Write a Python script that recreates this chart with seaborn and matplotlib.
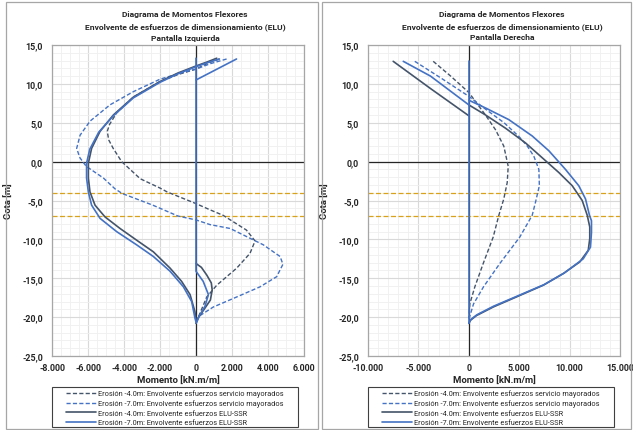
import numpy as np
import pandas as pd
import matplotlib
matplotlib.use("Agg")
import matplotlib.pyplot as plt
import seaborn as sns
from matplotlib.ticker import FuncFormatter, MultipleLocator
from matplotlib.lines import Line2D
from matplotlib.patches import Rectangle

nan = np.nan

series_names = [
    "Erosión -4.0m: Envolvente esfuerzos servicio mayorados",
    "Erosión -7.0m: Envolvente esfuerzos servicio mayorados",
    "Erosión -4.0m: Envolvente esfuerzos ELU-SSR",
    "Erosión -7.0m: Envolvente esfuerzos ELU-SSR",
]

# ---- Pantalla Izquierda (momento kN.m/m, cota m) ----
izq_serv4_x = [1300, 700, 0, -1000, -2000, -3480, -4400, -4800, -4930, -4850, -4600, -4130,
               -3100, -2000, -1600, 0, 780, 1500, 2800, 3280, 3000, 2260, 1150, 600, 130, 0]
izq_serv4_y = [13.2, 12.7, 11.9, 11.2, 10.3, 8.3, 6.3, 4.8, 3.9, 2.8, 1.7, 0.0,
               -2.2, -3.4, -3.9, -5.4, -6.2, -6.9, -8.8, -10.2, -11.8, -13.7, -15.9, -17.4, -20.0, -20.4]

izq_serv7_x = [1700, 800, 0, -1000, -2000, -3480, -4780, -5890, -6440, -6630, -6450, -6100,
               -5150, -4500, -4100, -2400, -1000, 0, 780, 1900, 3740, 4670, 4830, 4480,
               3560, 2070, 960, 220, 0]
izq_serv7_y = [13.2, 12.6, 11.9, 11.3, 10.6, 9.0, 7.3, 5.2, 3.4, 1.7, 0.5, -0.6,
               -2.1, -3.5, -4.1, -5.6, -7.0, -7.5, -8.1, -8.6, -10.7, -12.2, -13.2, -14.8,
               -16.1, -17.6, -18.7, -19.8, -20.4]

izq_elu4_x = [1150, 600, 0, -1000, -2000, -3480, -4590, -5330, -5800, -5980, -5980, -5890,
              -5610, -5060, -4220, -3300, -2370, -1440, -800, -330, -60, 0, nan,
              0, 300, 600, 850, 900, 800, 450, 150, 0]
izq_elu4_y = [13.3, 12.8, 12.3, 11.4, 10.3, 8.3, 6.0, 3.9, 1.7, -0.2, -2.1, -3.9,
              -5.6, -7.1, -8.6, -10.1, -11.6, -13.7, -15.4, -17.1, -19.3, -20.4, nan,
              -13.1, -13.6, -14.6, -15.6, -16.5, -17.8, -19.0, -20.0, -20.8]

izq_elu7_x = [2250, 0, nan,
              0, 0, 400, 690, 500, 220, 0, nan,
              1300, 600, 0, -1000, -2000, -3480, -4590, -5400, -5900, -6080, -6080, -5980,
              -5800, -5330, -4410, -3300, -2370, -1440, -700, -240, -60, 0]
izq_elu7_y = [13.2, 10.5, nan,
              13.3, -14.1, -15.4, -17.1, -18.6, -19.7, -20.8, nan,
              13.2, 12.7, 12.2, 11.3, 10.2, 8.2, 5.9, 3.8, 1.6, -0.2, -2.1, -3.9,
              -5.6, -7.3, -9.0, -10.7, -12.2, -14.1, -16.1, -18.0, -20.1, -20.6]

# ---- Pantalla Derecha ----
der_serv4_x = [-3530, -1800, 0, 1650, 2650, 3470, 3910, 3810, 3470, 2980, 2420, 1430, 600, 100, 0]
der_serv4_y = [12.9, 11.0, 8.9, 6.0, 4.1, 2.0, -0.6, -2.7, -4.8, -6.9, -9.7, -13.1, -16.1, -18.3, -20.1]

der_serv7_x = [-5360, -2700, 0, 1500, 3500, 5000, 5800, 6450, 6950, 7000, 6620, 6290,
               5060, 3080, 1460, 470, 0]
der_serv7_y = [12.9, 10.7, 8.4, 6.9, 5.0, 3.2, 2.0, 0.7, -1.0, -3.1, -5.2, -6.9,
               -9.7, -13.1, -16.1, -18.3, -20.3]

der_elu4_x = [-7500, -3800, 0, nan,
              0, 1660, 3640, 5630, 7280, 8930, 10260, 11250, 11750, 12000, 12000, 11850,
              11010, 9370, 7380, 4730, 2420, 760, 170, 0]
der_elu4_y = [12.9, 9.4, 5.9, nan,
              7.3, 6.0, 4.3, 2.4, 0.5, -1.4, -3.1, -5.0, -6.9, -8.4, -9.9, -11.4,
              -12.9, -14.4, -15.9, -17.4, -18.7, -19.8, -20.4, -20.8]

der_elu7_x = [-6500, -3800, 0, nan,
              0, 0, nan,
              0, 1660, 3970, 6290, 7940, 9590, 10910, 11580, 11970, 12170, 12170, 12070,
              11350, 9500, 7500, 4800, 2450, 800, 200, 0]
der_elu7_y = [12.9, 11.0, 7.3, nan,
              12.9, -20.8, nan,
              7.9, 6.9, 5.4, 3.3, 1.4, -1.0, -3.1, -4.8, -6.9, -7.6, -9.1, -11.0,
              -12.5, -14.3, -15.8, -17.3, -18.6, -19.7, -20.3, -20.8]

izq_series = [(izq_serv4_x, izq_serv4_y), (izq_serv7_x, izq_serv7_y),
              (izq_elu4_x, izq_elu4_y), (izq_elu7_x, izq_elu7_y)]
der_series = [(der_serv4_x, der_serv4_y), (der_serv7_x, der_serv7_y),
              (der_elu4_x, der_elu4_y), (der_elu7_x, der_elu7_y)]

erosion_levels = [-4.0, -7.0]

colors = ["#44546A", "#4472C4", "#44546A", "#4472C4"]
styles = [(0, (3, 1.6)), (0, (3, 1.6)), "-", "-"]
widths = [1.0, 1.0, 1.2, 1.2]


def build_frame(series):
    rows = []
    for name, (xs, ys) in zip(series_names, series):
        tramo = 0
        for x, y in zip(xs, ys):
            if np.isnan(x):
                tramo += 1
                continue
            rows.append({"serie": name, "tramo": tramo, "momento": x, "cota": y})
    return pd.DataFrame(rows)


sns.set_style("white")
plt.rcParams["font.family"] = ["Roboto", "DejaVu Sans"]

fig = plt.figure(figsize=(6.33, 4.31), dpi=100)
W, H = 633, 431


def fx(px):
    return px / W


def fy(py):
    return 1 - py / H


thousands = FuncFormatter(lambda v, p: f"{v:,.0f}".replace(",", "."))
decimal = FuncFormatter(lambda v, p: f"{v:.1f}".replace(".", ","))

panels = [
    dict(series=izq_series, left=52, title="Pantalla Izquierda", xlim=(-8000, 6000),
         major=2000, minor=500, border=(6, 318), title_x=185),
    dict(series=der_series, left=368, title="Pantalla Derecha", xlim=(-10000, 15000),
         major=5000, minor=1000, border=(322, 631), title_x=502),
]

title_lines = ["Diagrama de Momentos Flexores",
               "Envolvente de esfuerzos de dimensionamiento (ELU)"]

for pan in panels:
    # marco del panel
    b0, b1 = pan["border"]
    fig.patches.append(Rectangle((fx(b0), fy(430)), fx(b1 - b0), 427 / H, transform=fig.transFigure,
                                 fill=False, edgecolor="#a6a6a6", lw=0.9))

    ax = fig.add_axes([fx(pan["left"]), fy(357), fx(252), 311 / H])
    df = build_frame(pan["series"])

    ax.axhline(0, color="#262626", lw=0.9, zorder=2)
    ax.axvline(0, color="#262626", lw=0.9, zorder=2)
    for e in erosion_levels:
        ax.axhline(e, color="#D9A21B", lw=0.9, ls=(0, (4, 2)), zorder=2)

    for name, c, s, w in zip(series_names, colors, styles, widths):
        sub = df[df["serie"] == name]
        sns.lineplot(data=sub, x="momento", y="cota", units="tramo", estimator=None, sort=False,
                     color=c, linestyle=s, lw=w, ax=ax, legend=False, zorder=3)

    ax.set_xlim(*pan["xlim"])
    ax.set_ylim(-25, 15)
    ax.xaxis.set_major_locator(MultipleLocator(pan["major"]))
    ax.xaxis.set_minor_locator(MultipleLocator(pan["minor"]))
    ax.yaxis.set_major_locator(MultipleLocator(5))
    ax.yaxis.set_minor_locator(MultipleLocator(1))
    ax.xaxis.set_major_formatter(thousands)
    ax.yaxis.set_major_formatter(decimal)
    ax.grid(which="major", color="#d9d9d9", lw=0.8)
    ax.grid(which="minor", color="#efefef", lw=0.6)
    ax.set_axisbelow(True)
    ax.tick_params(which="both", length=0, labelsize=6.4)
    ax.tick_params(axis="x", pad=5)
    ax.tick_params(axis="y", pad=6.5)
    for lab in ax.get_xticklabels() + ax.get_yticklabels():
        lab.set_fontweight("bold")
    for sp in ax.spines.values():
        sp.set_color("#a6a6a6")
        sp.set_linewidth(0.9)

    ax.set_xlabel("Momento [kN.m/m]", fontsize=6.8, fontweight="bold", labelpad=3)
    ax.set_ylabel("Cota [m]", fontsize=6.8, fontweight="bold", labelpad=6)

    for txt, ty in zip(title_lines + [pan["title"]], [15, 27, 38]):
        fig.text(fx(pan["title_x"]), fy(ty), txt, ha="center", va="center", fontsize=6.1,
                 fontweight="bold", color="#262626")

    # leyenda con marco propio
    l0 = pan["left"]
    fig.patches.append(Rectangle((fx(l0), fy(428)), fx(246), 40 / H, transform=fig.transFigure,
                                 fill=False, edgecolor="#404040", lw=0.8))
    handles = [Line2D([], [], color=c, ls=s, lw=w) for c, s, w in zip(colors, styles, widths)]
    fig.legend(handles, series_names, loc="center",
               bbox_to_anchor=(fx(l0 + 123), fy(409)), fontsize=5.3,
               frameon=False, handlelength=4, borderpad=0.2, labelspacing=0.32,
               handletextpad=0.35, borderaxespad=0)

fig.savefig("out.png", dpi=100)
